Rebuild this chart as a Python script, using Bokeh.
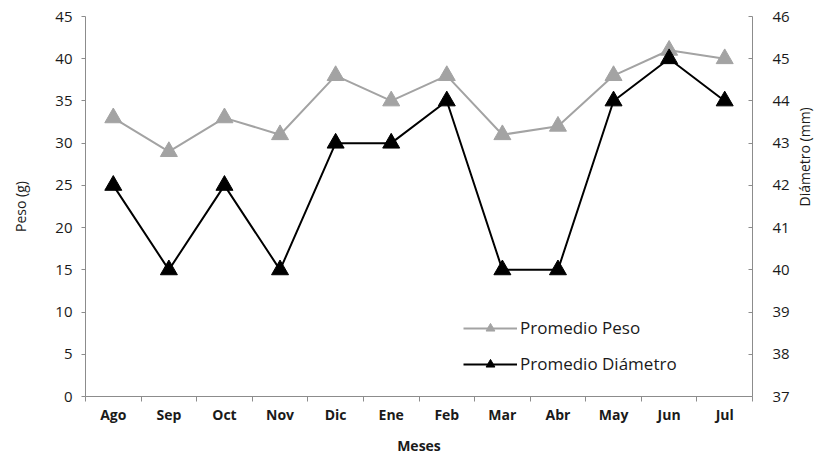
import math
from bokeh.plotting import figure
from bokeh.models import Range1d, LinearAxis, FixedTicker, Legend, LegendItem
from bokeh.embed import file_html
from bokeh.resources import INLINE

meses = ["Ago", "Sep", "Oct", "Nov", "Dic", "Ene", "Feb", "Mar", "Abr", "May", "Jun", "Jul"]
peso = [33, 29, 33, 31, 38, 35, 38, 31, 32, 38, 41, 40]
diametro = [42, 40, 42, 40, 43, 43, 44, 40, 40, 44, 45, 44]
peso_ticks = [0, 5, 10, 15, 20, 25, 30, 35, 40, 45]
diam_ticks = [37, 38, 39, 40, 41, 42, 43, 44, 45, 46]

FONT = "Open Sans"
GRAY = "#a3a3a3"
AXIS = "#8c8c8c"

xs = [i + 0.5 for i in range(len(meses))]

p = figure(frame_width=667, frame_height=380,
           x_range=Range1d(0, len(meses)), y_range=Range1d(0, 45),
           output_backend="svg", toolbar_location=None,
           min_border_left=85, min_border_right=60, min_border_top=16, min_border_bottom=56)
p.extra_y_ranges = {"diam": Range1d(37, 46)}
p.outline_line_color = None
p.xgrid.visible = False
p.ygrid.visible = False

# left axis
ya = p.yaxis[0]
ya.ticker = FixedTicker(ticks=peso_ticks)
ya.axis_label = "Peso (g)"
ya.major_tick_out = 4
ya.major_tick_in = 0

# bottom axis
xa = p.xaxis[0]
xa.ticker = FixedTicker(ticks=xs, minor_ticks=list(range(len(meses) + 1)))
xa.major_label_overrides = {x: m for x, m in zip(xs, meses)}
xa.major_tick_out = 0
xa.major_tick_in = 0
xa.minor_tick_out = 5
xa.minor_tick_in = 0
xa.axis_label = "Meses"

# right axis
ra = LinearAxis(y_range_name="diam", ticker=FixedTicker(ticks=diam_ticks), axis_label="Diámetro (mm)")
ra.major_tick_in = 4
ra.major_tick_out = 0
p.add_layout(ra, "right")

for ax in [ya, xa, ra]:
    ax.axis_line_color = AXIS
    ax.major_tick_line_color = AXIS
    ax.minor_tick_line_color = AXIS if ax is xa else None
    ax.major_label_text_font = FONT
    ax.major_label_text_font_size = "15px"
    ax.major_label_text_color = "#1a1a1a"
    ax.axis_label_text_font = FONT
    ax.axis_label_text_font_size = "14px"
    ax.axis_label_text_font_style = "normal"
    ax.axis_label_text_color = "#1a1a1a"
xa.axis_label_text_font_style = "bold"
xa.major_label_text_font_style = "bold"
xa.major_label_text_font_size = "14px"
xa.major_label_standoff = 3
xa.axis_label_standoff = 9
ya.major_label_standoff = 9
ya.axis_label_standoff = 22
ra.major_label_standoff = 20
ra.axis_label_standoff = 12
ra.axis_label_orientation = math.pi / 2

l1 = p.line(xs, peso, line_color=GRAY, line_width=2)
m1 = p.scatter(xs, peso, marker="triangle", size=17, fill_color=GRAY, line_color=GRAY)
l2 = p.line(xs, diametro, line_color="black", line_width=2, y_range_name="diam")
m2 = p.scatter(xs, diametro, marker="triangle", size=17, fill_color="black", line_color="black", y_range_name="diam")

legend = Legend(items=[LegendItem(label="Promedio Peso", renderers=[l1, m1]),
                       LegendItem(label="Promedio Diámetro", renderers=[l2, m2])],
                location=(378, 21), border_line_color=None, background_fill_alpha=0,
                glyph_width=54, glyph_height=22, spacing=13, label_standoff=3,
                label_text_font=FONT, label_text_font_size="17px", label_text_color="#1a1a1a")
p.add_layout(legend, "center")

open("out.html", "w").write(file_html(p, INLINE))
